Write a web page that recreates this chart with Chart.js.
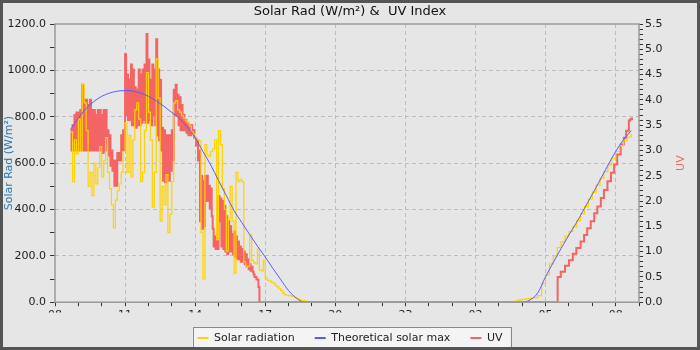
<!DOCTYPE html>
<html>
<head>
<meta charset="utf-8">
<script src="https://cdn.jsdelivr.net/npm/chart.js@4.4.1/dist/chart.umd.min.js"></script>
<style>
  html, body { margin: 0; padding: 0; background: #e6e6e6; }
  canvas { display: block; }
</style>
</head>
<body>
<canvas id="solarChart" width="700" height="350"></canvas>
<script>
// Solar radiation (W/m2), logged every 5 min from 08:40
var solarDayStart = '08:40';
var solarDay = [
    735, 520, 700, 640, 790, 650, 940, 860, 740, 500,
    560, 460, 600, 510, 580, 670, 540, 610, 710, 560,
    490, 420, 320, 440, 480, 510, 560, 650, 775, 560,
    720, 540, 700, 830, 860, 790, 520, 560, 740, 990,
    820, 700, 410, 560, 1050, 880, 350, 500, 420, 550,
    300, 380, 520, 860, 870, 830, 820, 805, 795, 782,
    775, 760, 735, 725, 710, 700, 696, 300, 100, 680,
    635, 630, 650, 660, 700, 270, 740, 680, 490, 400,
    220, 360, 500, 350, 125, 560, 520, 530, 520, 174,
    150, 155, 290, 180, 170, 165, 230, 138, 135, 180,
    105, 95, 92, 86, 82, 72, 66, 58, 50, 38,
    32, 30, 28, 27, 25, 20, 16, 12, 8, 7,
    6, 0
];
// next morning, every 10 min from 03:30
var solarDawnStart = '03:30';
var solarDawn = [
    0, 5, 10, 12, 15, 17, 20, 28, 80, 118,
    165, 200, 235, 260, 285, 305, 325, 352, 382, 412,
    445, 475, 505, 535, 563, 592, 620, 650, 675, 698,
    712, 728
];

// Theoretical solar max (W/m2), every 20 min
var theoDayStart = '08:40';
var theoDay = [
    745, 794, 836, 866, 888, 902, 910, 913, 911, 902,
    888, 868, 845, 818, 792, 755, 710, 650, 592, 525,
    460, 395, 343, 292, 242, 195, 145, 97, 50, 18,
    0
];
var theoDawnStart = '04:00';
var theoDawn = [
    0, 10, 40, 110, 172, 232, 290, 345, 405, 465,
    527, 590, 650, 700, 740
];

// UV index, two readings per 5 min (high then low) from 08:40
var uvDayStart = '08:40';
var uvDayHigh = [
    3.4, 3.5, 3.7, 3.75, 3.75, 3.8, 4.3, 4.0, 4.0, 3.9,
    4.0, 3.8, 3.8, 3.7, 3.8, 3.8, 3.7, 3.8, 3.8, 3.4,
    3.3, 3.0, 2.8, 2.8, 2.95, 2.95, 3.3, 3.4, 4.9, 4.5,
    4.4, 4.7, 4.6, 4.25, 4.2, 4.6, 4.5, 4.6, 4.7, 5.3,
    4.8, 4.4, 4.7, 4.6, 5.2, 4.6, 4.4, 3.45, 3.4, 3.3,
    3.3, 3.3, 3.4, 4.2, 4.3, 4.1, 4.05, 3.9, 3.7, 3.6,
    3.55, 3.5, 3.5, 3.4, 3.25, 3.2, 3.0, 2.5, 2.4, 2.5,
    2.5, 2.3, 2.25, 1.45, 1.3, 1.25, 2.1, 2.05, 2.0, 1.9,
    1.7, 1.6, 1.5, 1.35, 1.4, 1.3, 1.2, 1.1, 1.05, 1.0,
    0.95, 0.85, 0.75, 0.7, 0.55, 0.5, 0.45, 0
];
var uvDayLow = [
    3.0, 3.0, 3.0, 3.0, 3.0, 3.0, 3.0, 3.0, 3.0, 3.0,
    3.0, 3.0, 3.0, 3.0, 3.0, 3.0, 2.95, 3.0, 3.0, 2.9,
    2.7, 2.6, 2.3, 2.3, 2.8, 2.8, 3.0, 3.0, 3.7, 3.6,
    3.6, 3.5, 3.5, 3.45, 3.5, 3.5, 3.55, 3.6, 3.55, 3.55,
    3.6, 3.5, 3.7, 3.5, 3.3, 3.2, 3.0, 2.4, 2.37, 2.4,
    2.4, 2.6, 2.8, 3.7, 3.7, 3.5, 3.4, 3.4, 3.4, 3.35,
    3.3, 3.3, 3.35, 3.25, 3.1, 2.8, 1.6, 1.45, 1.5, 2.0,
    2.0, 1.85, 1.7, 1.1, 1.05, 1.05, 1.6, 1.1, 1.05, 1.0,
    0.95, 1.0, 1.0, 0.95, 0.9, 0.86, 0.85, 0.8, 0.8, 0.75,
    0.7, 0.65, 0.62, 0.6, 0.5, 0.45, 0.3, 0
];
var uvDawnTimes = [
    '05:31', '05:39', '05:50', '06:00', '06:10', '06:19', '06:30', '06:39',
    '06:47', '06:56', '07:05', '07:13', '07:22', '07:30', '07:39', '07:48',
    '07:56', '08:04', '08:13', '08:21', '08:27', '08:34', '08:38', '08:42'
];
var uvDawn = [
    0.5, 0.6, 0.72, 0.83, 0.96, 1.07, 1.2, 1.33,
    1.46, 1.6, 1.76, 1.89, 2.06, 2.22, 2.39, 2.56,
    2.72, 2.92, 3.12, 3.25, 3.39, 3.59, 3.62, 3.65
];

var hourLabels = ['08', '11', '14', '17', '20', '23', '02', '05', '08'];
var uvTickCount = 56; // 0.0 .. 5.5 every 0.1

// hours since 08:00 of the first day
function hoursSince8(hhmm, nextDay) {
    var p = hhmm.split(':');
    return Number(p[0]) + Number(p[1]) / 60 + (nextDay ? 24 : 0) - 8;
}

function toPoints(start, nextDay, stepMin, values) {
    var t0 = hoursSince8(start, nextDay);
    return values.map(function (v, i) {
        return { x: t0 + i * stepMin / 60, y: v };
    });
}

var solarPoints = toPoints(solarDayStart, false, 5, solarDay)
    .concat(toPoints(solarDawnStart, true, 10, solarDawn));
var theoPoints = toPoints(theoDayStart, false, 20, theoDay)
    .concat(toPoints(theoDawnStart, true, 20, theoDawn));

var uvPoints = [];
var uvT0 = hoursSince8(uvDayStart, false);
for (var i = 0; i < uvDayHigh.length; i++) {
    uvPoints.push({ x: uvT0 + i * 5 / 60, y: uvDayHigh[i] });
    uvPoints.push({ x: uvT0 + (i + 0.5) * 5 / 60, y: uvDayLow[i] });
}
for (var k = 0; k < uvDawnTimes.length; k++) {
    uvPoints.push({ x: hoursSince8(uvDawnTimes[k], true), y: uvDawn[k] });
}

var GRID = '#bdbdbd';
var TICK = '#333333';

var framePlugin = {
    id: 'frame',
    beforeDraw: function (chart) {
        var ctx = chart.ctx;
        ctx.save();
        ctx.fillStyle = '#e6e6e6';
        ctx.fillRect(0, 0, chart.width, chart.height);

        // box behind the legend
        var boxes = chart.legend.legendHitBoxes;
        if (boxes && boxes.length) {
            var l = boxes[0].left - 5;
            var last = boxes[boxes.length - 1];
            var r = last.left + last.width + 8;
            var cy = boxes[0].top + boxes[0].height / 2;
            ctx.fillStyle = '#f4f4f4';
            ctx.fillRect(l, cy - 11, r - l, 22);
            ctx.strokeStyle = '#8a8a8a';
            ctx.lineWidth = 1;
            ctx.strokeRect(Math.round(l) + 0.5, Math.round(cy - 11) + 0.5, Math.round(r - l), 22);
        }
        ctx.restore();
    },
    afterDraw: function (chart) {
        var ctx = chart.ctx;
        var a = chart.chartArea;
        ctx.save();
        ctx.strokeStyle = '#9a9a9a';
        ctx.lineWidth = 1.5;
        ctx.strokeRect(a.left, a.top, a.right - a.left, a.bottom - a.top);

        var mid = (a.top + a.bottom) / 2;
        ctx.font = '11px "DejaVu Sans"';
        ctx.textAlign = 'center';
        ctx.textBaseline = 'middle';
        ctx.translate(9, mid);
        ctx.rotate(-Math.PI / 2);
        ctx.fillStyle = '#2b78b0';
        ctx.fillText('Solar Rad (W/m²)', 0, 0);
        ctx.restore();

        ctx.save();
        ctx.font = '11px "DejaVu Sans"';
        ctx.textAlign = 'center';
        ctx.textBaseline = 'middle';
        ctx.translate(681, mid);
        ctx.rotate(-Math.PI / 2);
        ctx.fillStyle = '#f06464';
        ctx.fillText('UV', 0, 0);
        ctx.restore();

        ctx.save();
        ctx.strokeStyle = '#555555';
        ctx.lineWidth = 3;
        ctx.strokeRect(1.5, 1.5, chart.width - 3, chart.height - 3);
        ctx.restore();
    }
};

Chart.defaults.font.family = '"DejaVu Sans", sans-serif';
Chart.defaults.font.size = 11;
Chart.defaults.color = '#222222';

new Chart(document.getElementById('solarChart'), {
    type: 'line',
    data: {
        datasets: [
            {
                label: 'Solar radiation',
                data: solarPoints,
                yAxisID: 'y',
                borderColor: '#ffd200',
                backgroundColor: '#ffd200',
                borderWidth: 1.2,
                pointRadius: 0,
                stepped: true,
                order: 1
            },
            {
                label: 'Theoretical solar max',
                data: theoPoints,
                yAxisID: 'y',
                borderColor: '#5a5aff',
                backgroundColor: '#5a5aff',
                borderWidth: 1,
                pointRadius: 0,
                cubicInterpolationMode: 'monotone',
                order: 0
            },
            {
                label: 'UV',
                data: uvPoints,
                yAxisID: 'y1',
                borderColor: '#f46464',
                backgroundColor: '#f46464',
                borderWidth: 2,
                pointRadius: 0,
                stepped: true,
                order: 2
            }
        ]
    },
    options: {
        responsive: false,
        animation: false,
        devicePixelRatio: 1,
        layout: { padding: { left: 0, right: 0, top: 0, bottom: -3.6 } },
        plugins: {
            title: {
                display: true,
                text: 'Solar Rad (W/m²) &  UV Index',
                color: '#111111',
                font: { size: 13, weight: 'normal' },
                padding: { top: 4, bottom: 4.4 }
            },
            legend: {
                position: 'bottom',
                labels: {
                    boxWidth: 11,
                    boxHeight: 2,
                    padding: 20,
                    color: '#222222',
                    sort: function (a, b) { return a.datasetIndex - b.datasetIndex; },
                    generateLabels: function (chart) {
                        var items = Chart.defaults.plugins.legend.labels.generateLabels(chart);
                        items.forEach(function (it) {
                            it.fillStyle = it.strokeStyle;
                            it.lineWidth = 0;
                        });
                        return items;
                    }
                }
            },
            tooltip: { enabled: false }
        },
        scales: {
            x: {
                type: 'linear',
                min: 0,
                max: 25,
                afterFit: function (s) { s.height = 10.4; },
                ticks: {
                    stepSize: 1,
                    autoSkip: false,
                    maxRotation: 0,
                    padding: 2,
                    callback: function (v) {
                        return v % 3 === 0 ? hourLabels[v / 3] : '';
                    }
                },
                grid: {
                    color: function (c) {
                        var v = c.tick ? c.tick.value : 0;
                        return (v % 3 === 0 && v > 0 && v < 25) ? GRID : 'transparent';
                    },
                    tickColor: TICK,
                    tickLength: 4,
                    tickBorderDash: []
                },
                border: { display: false, dash: [4, 3] }
            },
            y: {
                position: 'left',
                min: 0,
                max: 1200,
                afterFit: function (s) { s.width = 55; },
                ticks: {
                    stepSize: 100,
                    padding: 4,
                    callback: function (v) {
                        return v % 200 === 0 ? v.toFixed(1) : '';
                    }
                },
                grid: {
                    color: function (c) {
                        var v = c.tick ? c.tick.value : 0;
                        return (v % 200 === 0 && v > 0 && v < 1200) ? GRID : 'transparent';
                    },
                    tickColor: TICK,
                    tickLength: 5,
                    tickBorderDash: []
                },
                border: { display: false, dash: [4, 3] }
            },
            y1: {
                position: 'right',
                min: 0,
                max: 5.5,
                afterFit: function (s) { s.width = 61; },
                afterBuildTicks: function (s) {
                    var t = [];
                    for (var n = 0; n < uvTickCount; n++) t.push({ value: n / 10 });
                    s.ticks = t;
                },
                ticks: {
                    padding: 2,
                    autoSkip: false,
                    callback: function (v) {
                        return Math.round(v * 10) % 5 === 0 ? v.toFixed(1) : '';
                    }
                },
                grid: {
                    drawOnChartArea: false,
                    tickColor: TICK,
                    tickLength: 4,
                    tickBorderDash: []
                },
                border: { display: false }
            }
        }
    },
    plugins: [framePlugin]
});
</script>
</body>
</html>
